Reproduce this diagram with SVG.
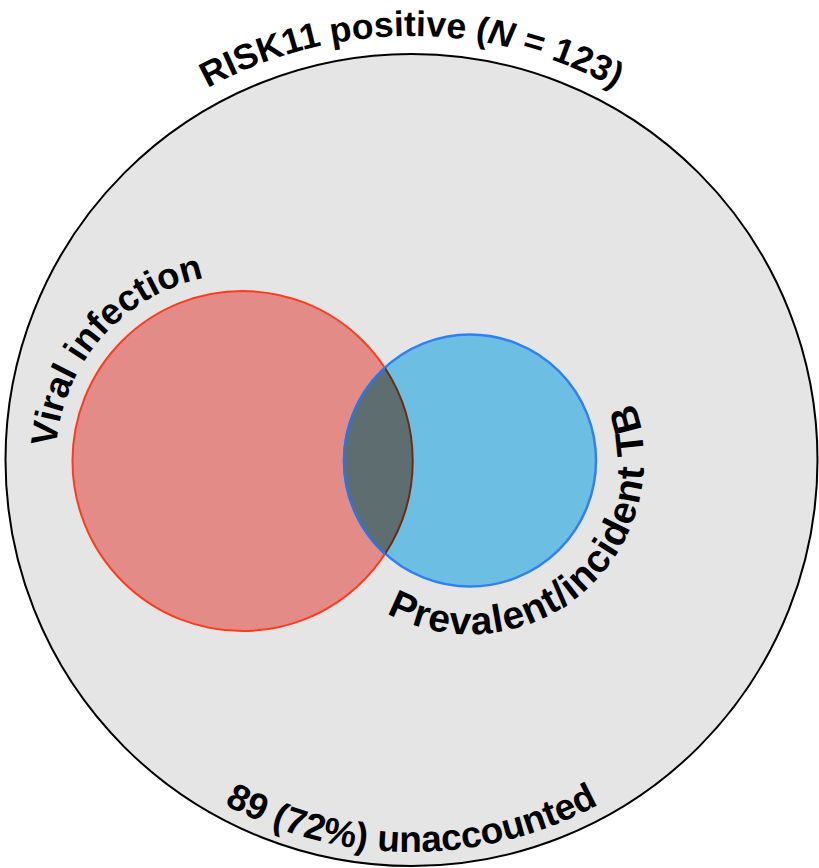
<svg xmlns="http://www.w3.org/2000/svg" width="819" height="868" viewBox="0 0 819 868">
<style>
.lbl{font-family:"Liberation Sans",Arial,Helvetica,sans-serif;font-weight:bold;font-size:35px;fill:#000}
.it{font-style:italic}
</style>
<defs>
<path id="pTop" d="M -12.5 460 A 424 424 0 0 1 835.5 460"/>
<path id="pBot" d="M 19.5 460 A 392 392 0 0 0 803.5 460"/>
<path id="pViral" d="M 58.34 493.47 A 187 187 0 0 1 336 299.05"/>
<path id="pTB" d="M 319.3 547.5 A 174 174 0 1 0 557 309.8"/>
</defs>
<rect width="819" height="868" fill="#fff"/>
<g id="outer">
<circle cx="411.5" cy="460" r="406" fill="#e5e5e5" stroke="#000" stroke-width="2"/>
<text class="lbl" style="font-size:35.5px"><textPath href="#pTop" startOffset="50%" text-anchor="middle">RISK11 positive (<tspan class="it">N</tspan> = 123)</textPath></text>
<text class="lbl" style="font-size:37px"><textPath href="#pBot" startOffset="50%" text-anchor="middle">89 (72%) unaccounted</textPath></text>
</g>
<g id="viral">
<circle cx="242.5" cy="461" r="170" fill="#e38b86" stroke="#ff3b1c" stroke-width="2"/>
<text class="lbl" style="font-size:36.5px"><textPath href="#pViral" startOffset="167" text-anchor="middle">Viral infection</textPath></text>
</g>
<g id="tb">
<circle cx="470" cy="460.5" r="126" fill="#6cbfe2" stroke="#2f80f5" stroke-width="2.5"/>
<text class="lbl" style="font-size:39px;letter-spacing:1px"><textPath href="#pTB" startOffset="305" text-anchor="middle">Prevalent/incident TB</textPath></text>
</g>
<g id="overlap">
<path d="M 385 368 A 170 170 0 0 1 385 554 A 126 126 0 0 1 385 368 Z" fill="#5e6d70"/>
<path d="M 385 368 A 170 170 0 0 1 385 554" fill="none" stroke="#6b2c12" stroke-width="2"/>
<path d="M 385 554 A 126 126 0 0 1 385 368" fill="none" stroke="#2a76e0" stroke-width="2.5"/>
</g>
</svg>
